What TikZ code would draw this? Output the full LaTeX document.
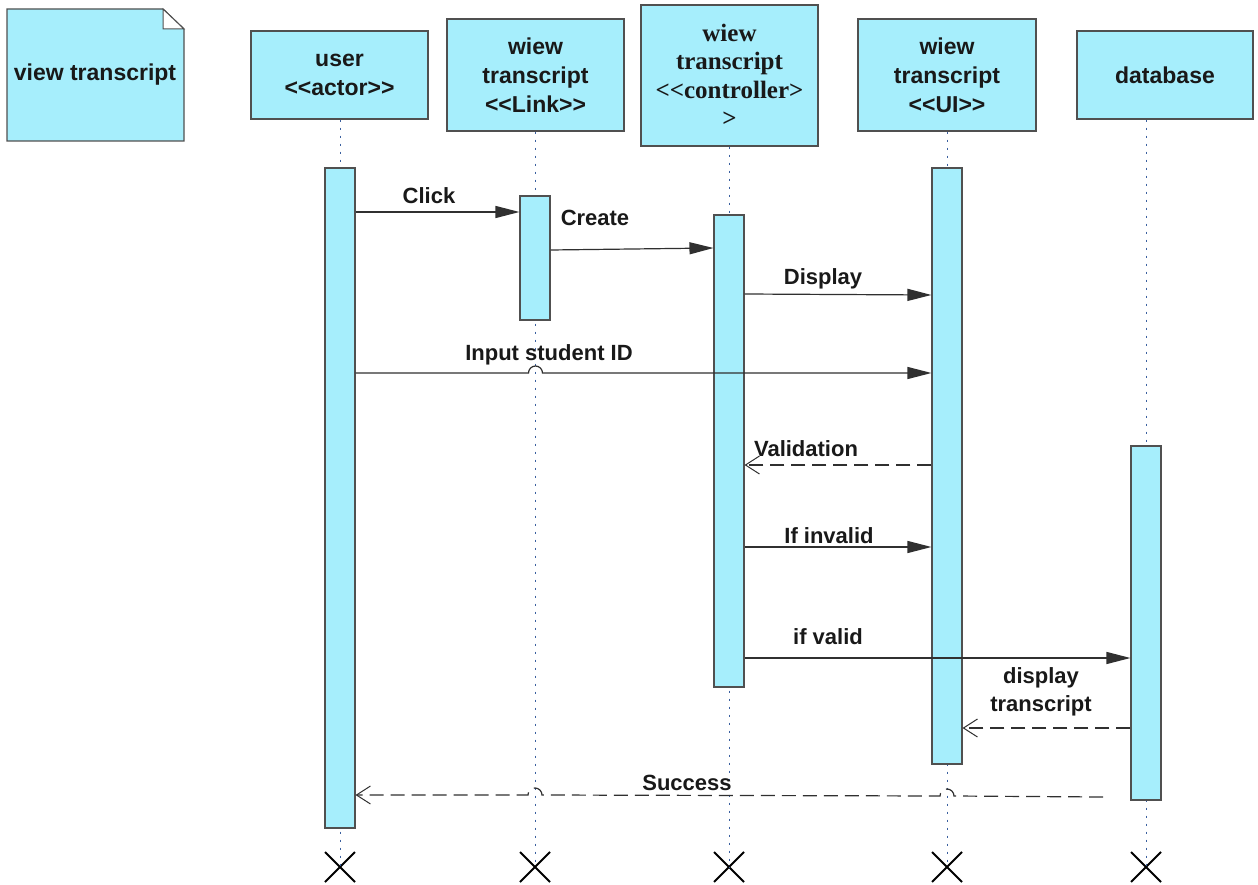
\documentclass[tikz,border=0pt]{standalone}
\usepackage{fontspec}
\setmainfont{Liberation Sans}[Ligatures=TeXOff]
\newfontfamily\serifbox{Liberation Serif}
\usetikzlibrary{arrows.meta,shapes.misc}

\definecolor{boxfill}{HTML}{A6EEFC}
\definecolor{boxline}{HTML}{505050}
\definecolor{lifecol}{HTML}{3A5F9F}
\definecolor{msgcol}{HTML}{303030}

\tikzset{
  obj/.style={draw=boxline,fill=boxfill,line width=1.3pt,align=center,
    inner sep=0pt,font=\fontsize{23}{29}\selectfont\bfseries,text=black!90},
  bar/.style={draw=boxline,fill=boxfill,line width=1.1pt,minimum width=30,inner sep=0pt},
  life/.style={draw=lifecol,line width=1pt,dash pattern=on 2pt off 6pt},
  kill/.style={cross out,draw=black,line width=2pt,minimum size=28,inner sep=0pt},
  msg/.style={draw=msgcol,line width=1.2pt,-{Triangle[length=24pt,width=12pt]}},
  ret/.style={draw=msgcol,line width=1.2pt,dash pattern=on 14pt off 7pt,
    -{Straight Barb[length=14pt,width=18pt,line width=1pt]}},
  lbl/.style={font=\fontsize{22}{28}\selectfont\bfseries,text=black!90,align=center,inner sep=0pt}
}

\begin{document}
\begin{tikzpicture}[x=1pt,y=-1pt]
  \useasboundingbox (0,0) rectangle (1258,885);
  % note
  \draw[boxline,fill=boxfill,line width=1.3pt] (7,9) -- (163,9) -- (184,29) -- (184,141) -- (7,141) -- cycle;
  \draw[boxline,fill=white,line width=1pt] (163,9) -- (184,29) -- (163,29) -- cycle;
  \node[lbl,font=\fontsize{23}{29}\selectfont\bfseries] (note) at (95,75) {view transcript};

  % objects
  \node[obj,minimum width=177,minimum height=88] (uhead) at (339.5,75) {user\\<<actor>>};
  \node[obj,minimum width=177,minimum height=112] (lhead) at (535.5,75) {wiew\\transcript\\<<Link>>};
  \node[obj,minimum width=177,minimum height=141,font=\fontsize{25}{28.5}\selectfont\serifbox\bfseries] (chead) at (729.5,75.5) {wiew\\transcript\\<<controller>\\>};
  \node[obj,minimum width=178,minimum height=112] (vhead) at (947,75) {wiew\\transcript\\<<UI>>};
  \node[obj,minimum width=176,minimum height=88] (dhead) at (1165,75) {database};

  % destruction marks
  \node[kill] (xu) at (340,867) {};
  \node[kill] (xl) at (535,867) {};
  \node[kill] (xc) at (729,867) {};
  \node[kill] (xv) at (947,867) {};
  \node[kill] (xd) at (1146,867) {};

  % lifelines
  \foreach \h/\x in {uhead/xu,lhead/xl,chead/xc,vhead/xv,dhead/xd}
    \draw[life] (\x |- \h.south) -- (\x.center);

  % activations
  \node[bar,minimum height=660] (ubar) at (340,498) {};
  \node[bar,minimum height=124] (lbar) at (535,258) {};
  \node[bar,minimum height=472] (cbar) at (729,451) {};
  \node[bar,minimum height=596] (vbar) at (947,466) {};
  \node[bar,minimum height=354] (dbar) at (1146,623) {};

  % messages
  \draw[msg] (ubar.east |- 0,212) -- (lbar.west |- 0,212);
  \node[lbl] (lclick) at (429,196) {Click};
  \draw[msg] (lbar.east |- 0,250) -- (cbar.west |- 0,248);
  \node[lbl] (lcreate) at (595,218) {Create};
  \draw[msg] (cbar.east |- 0,294) -- (vbar.west |- 0,295);
  \node[lbl] (ldisplay) at (823,279) {Display};
  \draw[msg] (ubar.east |- 0,373) -- ([xshift=-7pt]lhead.south |- 0,373)
    arc[start angle=180,end angle=360,radius=7] -- (vbar.west |- 0,373);
  \node[lbl] (linput) at (549,355) {Input student ID};
  \draw[ret] (vbar.west |- 0,465) -- (cbar.east |- 0,465);
  \node[lbl] (lvalid) at (806,449) {Validation};
  \draw[msg] (cbar.east |- 0,547) -- (vbar.west |- 0,547);
  \node[lbl] (linvalid) at (829,536) {If invalid};
  \draw[msg] (cbar.east |- 0,658) -- (dbar.west |- 0,658);
  \node[lbl] (lifvalid) at (828,637) {if valid};
  \draw[ret] (dbar.west |- 0,728) -- (vbar.east |- 0,728);
  \node[lbl] (lshow) at (1041,692) {display\\transcript};
  \coordinate (sstart) at (1103,797);
  \draw[ret] (sstart) -- ([xshift=7pt]xv |- 0,796) arc[start angle=0,end angle=-180,radius=7]
    -- ([xshift=7pt]xl |- 0,795) arc[start angle=0,end angle=-180,radius=7]
    -- (ubar.east |- 0,795);
  \node[lbl] (lsuccess) at (687,783) {Success};
\end{tikzpicture}
\end{document}
